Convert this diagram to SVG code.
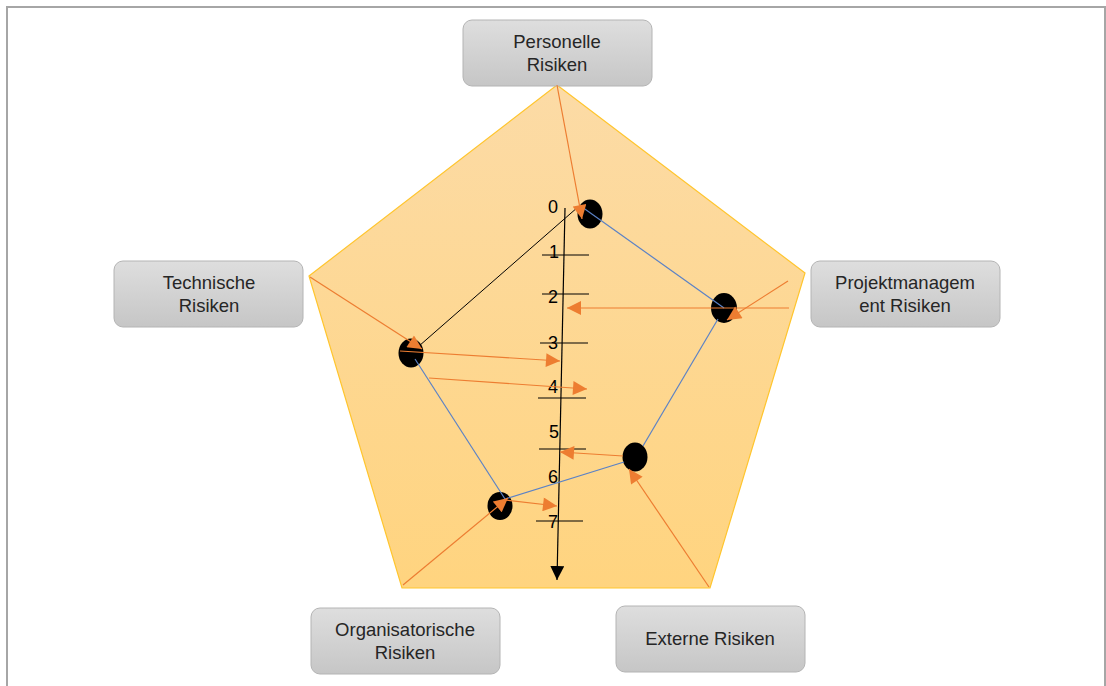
<svg xmlns="http://www.w3.org/2000/svg" width="1106" height="686" viewBox="0 0 1106 686">
  <defs>
    <linearGradient id="pentFill" x1="0" y1="0" x2="0" y2="1">
      <stop offset="0" stop-color="#FCDBA6"/>
      <stop offset="1" stop-color="#FFD47F"/>
    </linearGradient>
    <linearGradient id="boxFill" x1="0" y1="0" x2="0" y2="1">
      <stop offset="0" stop-color="#DEDEDE"/>
      <stop offset="1" stop-color="#C6C6C6"/>
    </linearGradient>
    <marker id="orangeHead" viewBox="0 0 10 10" refX="10" refY="5" markerWidth="15" markerHeight="14" markerUnits="userSpaceOnUse" orient="auto">
      <path d="M0,0 L10,5 L0,10 Z" fill="#ED7D31"/>
    </marker>
    <marker id="blackHead" viewBox="0 0 10 10" refX="10" refY="5" markerWidth="14" markerHeight="14" markerUnits="userSpaceOnUse" orient="auto">
      <path d="M0,0 L10,5 L0,10 Z" fill="#000"/>
    </marker>
  </defs>
  <style>
    .box { fill: url(#boxFill); stroke: #B4B4B4; stroke-width: 1; }
    .label { font-family: "Liberation Sans", Arial, sans-serif; font-size: 18.5px; fill: #262626; text-anchor: middle; }
    .num { font-family: "Liberation Sans", Arial, sans-serif; font-size: 18px; fill: #000; text-anchor: middle; }
    .tick { stroke: #000; stroke-width: 1; }
    .orange { stroke: #ED7D31; stroke-width: 1.2; fill: none; marker-end: url(#orangeHead); }
    .blue { stroke: #5B82C6; stroke-width: 1.2; fill: none; }
    .dot { fill: #000; }
  </style>

  <rect width="1106" height="686" fill="#FFFFFF"/>
  <!-- outer frame -->
  <rect x="7" y="7" width="1098" height="700" fill="none" stroke="#A6A6A6" stroke-width="2"/>

  <!-- pentagon background -->
  <g id="pentagon">
    <polygon points="557,85 805,273 710,588 402,588 309,276" fill="url(#pentFill)" stroke="#FFC52E" stroke-width="1.2"/>
  </g>

  <!-- category nodes -->
  <g id="node-personelle">
    <rect class="box" x="463" y="20" width="189" height="66" rx="9"/>
    <text class="label" x="557" y="48">Personelle</text>
    <text class="label" x="557" y="71">Risiken</text>
  </g>
  <g id="node-technische">
    <rect class="box" x="114" y="261" width="189" height="66" rx="9"/>
    <text class="label" x="209" y="289">Technische</text>
    <text class="label" x="209" y="312">Risiken</text>
  </g>
  <g id="node-projektmanagement">
    <rect class="box" x="811" y="261" width="189" height="66" rx="9"/>
    <text class="label" x="905" y="289">Projektmanagem</text>
    <text class="label" x="905" y="312">ent Risiken</text>
  </g>
  <g id="node-organisatorische">
    <rect class="box" x="311" y="608" width="189" height="66" rx="9"/>
    <text class="label" x="405" y="636">Organisatorische</text>
    <text class="label" x="405" y="659">Risiken</text>
  </g>
  <g id="node-externe">
    <rect class="box" x="616" y="606" width="189" height="66" rx="9"/>
    <text class="label" x="710" y="645">Externe Risiken</text>
  </g>

  <!-- scale axis -->
  <g id="scale">
    <line x1="565" y1="208" x2="557" y2="580" stroke="#000" stroke-width="1.2" marker-end="url(#blackHead)"/>
    <line class="tick" x1="542" y1="255" x2="589" y2="255"/>
    <line class="tick" x1="542" y1="294" x2="589" y2="294"/>
    <line class="tick" x1="540" y1="343" x2="588" y2="343"/>
    <line class="tick" x1="538" y1="398" x2="586" y2="398"/>
    <line class="tick" x1="539" y1="449" x2="586" y2="449"/>
    <line class="tick" x1="536" y1="521" x2="583" y2="521"/>
    <text class="num" x="553" y="213">0</text>
    <text class="num" x="554" y="258">1</text>
    <text class="num" x="553" y="303">2</text>
    <text class="num" x="553" y="349">3</text>
    <text class="num" x="553" y="393">4</text>
    <text class="num" x="554" y="438">5</text>
    <text class="num" x="553" y="483">6</text>
    <text class="num" x="553" y="528">7</text>
  </g>

  <!-- rating points -->
  <g id="points">
    <ellipse class="dot" cx="590" cy="214" rx="12.5" ry="14.5"/>
    <ellipse class="dot" cx="724" cy="308" rx="13" ry="15"/>
    <ellipse class="dot" cx="411" cy="353" rx="12.5" ry="14.5"/>
    <ellipse class="dot" cx="635" cy="457" rx="12.5" ry="14.5"/>
    <ellipse class="dot" cx="500" cy="506" rx="12.5" ry="14"/>
  </g>

  <!-- connectors -->
  <g id="connectors">
    <!-- profile line -->
    <line class="blue" x1="582" y1="207" x2="724" y2="308"/>
    <line class="blue" x1="718" y1="319" x2="643" y2="446"/>
    <line class="blue" x1="624" y1="462" x2="505" y2="499"/>
    <line class="blue" x1="505" y1="499" x2="415" y2="359"/>
    <line x1="411" y1="353" x2="578" y2="207" stroke="#000" stroke-width="1"/>

    <!-- rating arrows -->
    <line class="orange" x1="557" y1="85" x2="582" y2="219"/>
    <line class="orange" x1="789" y1="308" x2="567" y2="308"/>
    <line class="orange" x1="788" y1="281" x2="727" y2="320"/>
    <line class="orange" x1="310" y1="277" x2="422" y2="349"/>
    <line class="orange" x1="400" y1="351" x2="560" y2="361"/>
    <line class="orange" x1="429" y1="378" x2="587" y2="389"/>
    <line class="orange" x1="623" y1="456" x2="560" y2="452"/>
    <line class="orange" x1="709" y1="587" x2="629" y2="469"/>
    <line class="orange" x1="403" y1="585" x2="508" y2="498"/>
    <line class="orange" x1="505" y1="500" x2="557" y2="506"/>
  </g>
</svg>
